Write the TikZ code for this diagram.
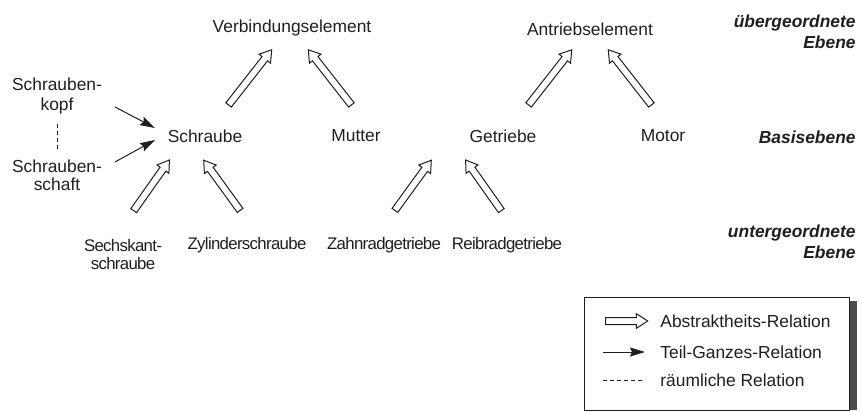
\documentclass[tikz,border=0pt]{standalone}
\usepackage{fontspec}
\setmainfont{Liberation Sans}
\usepackage{xcolor}
\usetikzlibrary{arrows.meta,calc,shapes.arrows}
\definecolor{myink}{gray}{0.12}
\definecolor{myshade}{gray}{0.3}
\begin{document}
\begin{tikzpicture}[x=0.5pt,y=-0.5pt,
every node/.style={myink, inner sep=0pt, font=\fontsize{8.7}{10}\selectfont},
unten/.style={font=\fontsize{8.4}{9}\selectfont\addfontfeature{LetterSpace=-4}},
abst/.style={single arrow, draw=myink, fill=white, line width=0.5pt, inner xsep=0pt, inner ysep=1.5pt,
  single arrow head extend=1.9pt, single arrow tip angle=66, minimum height=#1, sloped, allow upside down, midway},
teil/.style={myink, line width=0.5pt, -{Stealth[length=7.5pt, width=4.5pt, inset=1pt]}},
raeum/.style={myink, line width=0.5pt, dash pattern=on 2pt off 1.5pt},
ebene/.style={anchor=east, align=right, font=\fontsize{8.7}{10.5}\selectfont\bfseries\itshape}]
\useasboundingbox (0,0) rectangle (862,412);
\node (verb) at (292,28) {Verbindungselement};
\node (antr) at (590,29) {Antriebselement};
\node (schraube) at (205,136) {Schraube};
\node (mutter) at (356,136) {Mutter};
\node (getriebe) at (503,136) {Getriebe};
\node (motor) at (663,136) {Motor};
\node[align=center] (kopf) at (57,96) {Schrauben-\\kopf};
\node[align=center, font=\fontsize{8.7}{9}\selectfont] (schaft) at (57,175) {Schrauben-\\schaft};
\node[align=center, unten] (sechskant) at (123,254) {Sechskant-\\schraube};
\node[unten] (zylinder) at (247,245) {Zylinderschraube};
\node[unten] (zahnrad) at (384,245) {Zahnradgetriebe};
\node[unten] (reibrad) at (507,245) {Reibradgetriebe};
\node[ebene] (ueber) at (856,32) {übergeordnete\\Ebene};
\node[ebene] (basis) at (856,137) {Basisebene};
\node[ebene] (unter) at (856,242) {untergeordnete\\Ebene};
\path ($(schraube)+(22,-29)$) -- ($(verb)+(-22,24)$) node[abst=35pt] {};
\path ($(mutter)+(-3,-29)$) -- ($(verb)+(18,24)$) node[abst=35pt] {};
\path ($(getriebe)+(24,-29)$) -- ($(antr)+(-20,23)$) node[abst=35pt] {};
\path ($(motor)+(-10,-29)$) -- ($(antr)+(20,23)$) node[abst=35pt] {};
\path ($(sechskant)+(9,-41)$) -- ($(schraube)+(-37,26)$) node[abst=31pt] {};
\path ($(zylinder)+(-5,-32)$) -- ($(schraube)+(0,26)$) node[abst=31pt] {};
\path ($(zahnrad)+(9,-32)$) -- ($(getriebe)+(-73,26)$) node[abst=31pt] {};
\path ($(reibrad)+(-4,-32)$) -- ($(getriebe)+(-36,26)$) node[abst=31pt] {};
\draw[teil] ($(kopf)+(58,11)$) -- ($(schraube)+(-50,-8)$);
\draw[teil] ($(schaft)+(58,-13)$) -- ($(schraube)+(-50,4)$);
\draw[raeum, shorten <=4.5pt, shorten >=4.5pt] (kopf) -- (schaft);
\fill[myshade] (849,301) rectangle (857,410);
\draw[myink, line width=0.5pt, fill=white] (584,297) rectangle (849,410);
\node[anchor=west] (labst) at (660,321) {Abstraktheits-Relation};
\node[anchor=west] (lteil) at (660,352) {Teil-Ganzes-Relation};
\node[anchor=west] (lraeum) at (660,380) {räumliche Relation};
\path ($(labst.west)+(-57,0)$) -- ($(labst.west)+(-15,0)$) node[abst=21pt] {};
\draw[teil] ($(lteil.west)+(-57,0)$) -- ($(lteil.west)+(-15,0)$);
\draw[raeum] ($(lraeum.west)+(-57,0)$) -- ($(lraeum.west)+(-15,0)$);
\end{tikzpicture}
\end{document}
